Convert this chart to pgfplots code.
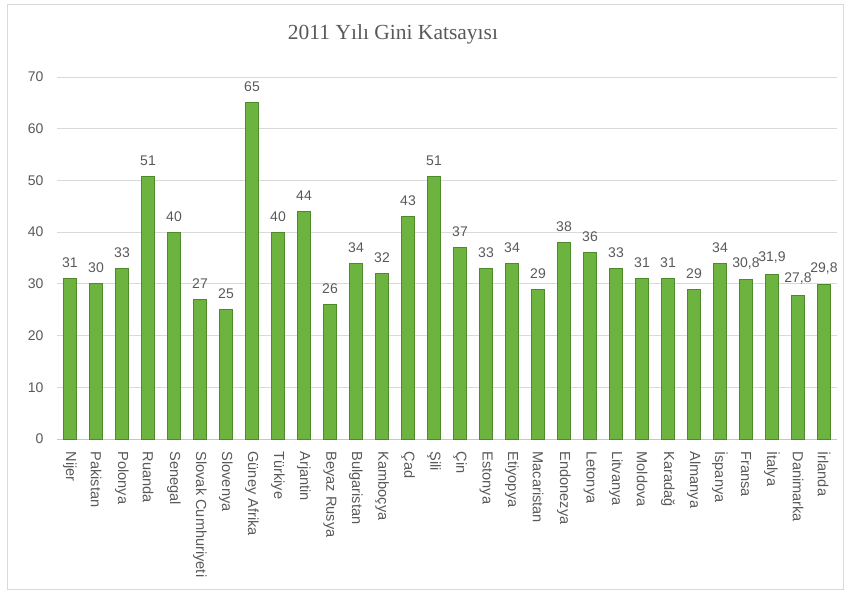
\documentclass[border=0pt]{standalone}
\usepackage{fontspec}
\setmainfont{Liberation Sans}
\newfontfamily\titlefont{Liberation Serif}
\usepackage{pgfplots}
\usepackage{pgfplotstable}
\pgfplotsset{compat=1.18}
\definecolor{txt}{HTML}{595959}
\definecolor{barfill}{HTML}{6DB33F}
\definecolor{baredge}{HTML}{4F8A2A}
\definecolor{gridc}{HTML}{D9D9D9}
\pgfplotstableread{
x y lab
0 31 31
1 30 30
2 33 33
3 50.8 51
4 40 40
5 27 27
6 25 25
7 65 65
8 40 40
9 44 44
10 26 26
11 34 34
12 32 32
13 43 43
14 50.7 51
15 37 37
16 33 33
17 34 34
18 29 29
19 38 38
20 36 36
21 33 33
22 31 31
23 31 31
24 29 29
25 34 34
26 30.8 {30,8}
27 31.9 {31,9}
28 27.8 {27,8}
29 29.8 {29,8}
}\gini
\begin{document}
\begin{tikzpicture}[x=1bp,y=1bp]
\path[use as bounding box] (0,0) rectangle (850,593);
\draw[gridc, line width=0.8bp] (7,4) rectangle (843,589);
\begin{axis}[
  at={(57bp,154bp)}, anchor=south west,
  scale only axis, width=780bp, height=362bp,
  xmin=-0.5, xmax=29.5, ymin=0, ymax=70,
  ytick={0,10,...,70},
  ymajorgrids, grid style={gridc, line width=0.8bp},
  axis line style={draw=none},
  axis x line*=bottom,
  x axis line style={draw=gridc!80!gray, line width=0.8bp},
  xtick=data,
  xticklabels={Nijer,Pakistan,Polonya,Ruanda,Senegal,Slovak Cumhuriyeti,Slovenya,Güney Afrika,Türkiye,Arjantin,Beyaz Rusya,Bulgaristan,Kamboçya,Çad,Şili,Çin,Estonya,Etiyopya,Macaristan,Endonezya,Letonya,Litvanya,Moldova,Karadağ,Almanya,İspanya,Fransa,İtalya,Danimarka,İrlanda},
  xticklabel style={rotate=-90, anchor=west, font=\fontsize{14.6bp}{16bp}\selectfont, text=txt},
  yticklabel style={font=\fontsize{14bp}{16bp}\selectfont, text=txt, xshift=-10bp},
  /pgf/number format/assume math mode=true,
  major tick length=0pt,
  tick style={draw=none},
  xticklabel shift=9bp,
  ybar, bar width=13bp,
  nodes near coords,
  point meta=explicit symbolic,
  every node near coord/.append style={font=\fontsize{14bp}{16bp}\selectfont, text=txt, yshift=7bp},
  clip=false,
]
\addplot[fill=barfill, draw=baredge, line width=0.8bp] table[x=x, y=y, meta=lab] {\gini};
\end{axis}
\node[font=\titlefont\fontsize{21.5bp}{24bp}\selectfont, text=txt] at (393,559) {2011 Yılı Gini Katsayısı};
\end{tikzpicture}
\end{document}
